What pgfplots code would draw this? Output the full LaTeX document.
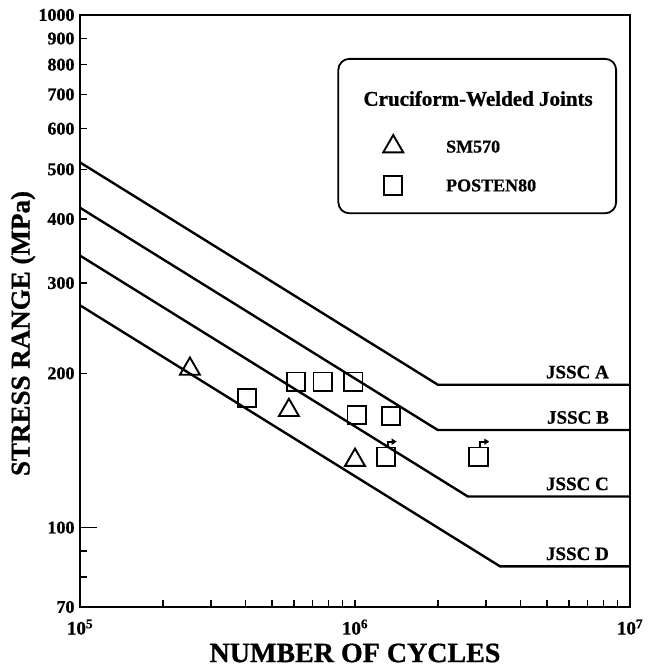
\documentclass[border=0pt]{standalone}
\usepackage{fontspec}
\setmainfont{Liberation Serif}[BoldFeatures={FakeBold=0.8}]
\usepackage{pgfplots}
\pgfplotsset{compat=1.18}
\usetikzlibrary{arrows.meta}
\newcommand{\fs}[1]{\fontsize{#1}{#1}\selectfont\bfseries}
\begin{document}
\begin{tikzpicture}
\begin{axis}[
  scale only axis, width=550pt, height=592pt,
  xmode=log, ymode=log,
  xmin=1e5, xmax=1e7, ymin=70, ymax=1000,
  axis line style={line width=2.2pt},
  tick style={line width=1.5pt, black},
  tick align=inside, tick pos=left,
  major tick length=7pt, minor tick length=7pt,
  xtick={1e5,1e6,1e7},
  xticklabels={10\textsuperscript{5},10\textsuperscript{6},10\textsuperscript{7}},
  minor xtick={2e5,3e5,4e5,5e5,6e5,7e5,8e5,9e5,2e6,3e6,4e6,5e6,6e6,7e6,8e6,9e6},
  ytick={70,100,200,300,400,500,600,700,800,900,1000},
  yticklabels={70,100,200,300,400,500,600,700,800,900,1000},
  minor ytick={80,90},
  extra y ticks={100}, extra y tick labels={},
  extra y tick style={major tick length=17pt},
  x tick label style={font=\fs{19}, yshift=-9pt},
  y tick label style={font=\fs{18}, xshift=-2pt},
  xlabel={NUMBER OF CYCLES},
  ylabel={STRESS RANGE (MPa)},
  xlabel style={font=\fs{28}, at={(axis description cs:0.5,-0.0777)}, anchor=center},
  ylabel style={font=\fs{27}, at={(axis description cs:-0.1036,0.462)}, anchor=center},
  legend style={draw=black, line width=1.8pt, rounded corners=11pt,
    at={(rel axis cs:0.9764,0.9274)}, anchor=north east,
    inner xsep=0pt, inner ysep=14pt, row sep=11pt, column sep=42pt,
    font=\fs{18}, cells={anchor=west},
    nodes={inner sep=0pt, text height=12pt, text depth=0pt}},
  legend image code/.code={\path (-54pt,-13pt) (10pt,13pt);
    \draw[mark repeat=1, mark phase=1] plot coordinates {(0pt,0pt)};},
]
% legend title
\addlegendimage{legend image code/.code={\path (0pt,-21pt) (0pt,26pt);}}
\addlegendentry{\hspace*{-106pt}\makebox[276pt][c]{\fs{21}Cruciform-Welded Joints}}

% JSSC curves
\addplot[black, line width=2.4pt, forget plot] coordinates {(1e5,515.7) (2e6,190) (1e7,190)};
\addplot[black, line width=2.4pt, forget plot] coordinates {(1e5,420.7) (2e6,155) (1e7,155)};
\addplot[black, line width=2.4pt, forget plot] coordinates {(1e5,339.3) (2.57e6,115) (1e7,115)};
\addplot[black, line width=2.4pt, forget plot] coordinates {(1e5,271.4) (3.37e6,84) (1e7,84)};

% SM570
\addplot[only marks, mark=triangle, mark size=11.5pt, mark options={line width=1.9pt, black, fill=white}]
  coordinates {(2.51e5,203.9) (5.75e5,169.4) (1e6,135.4)};
\addlegendentry{SM570}

% POSTEN80
\addplot[only marks, mark=square, mark size=9.2pt, mark options={line width=1.9pt, black, fill=white}]
  coordinates {(4.04e5,179.1) (6.1e5,192.6) (7.63e5,192.6) (9.86e5,192.6)
               (1.014e6,165.8) (1.349e6,165) (1.296e6,137.5) (2.81e6,137.5)};
\addlegendentry{POSTEN80}

% run-out arrows
\addplot[black, line width=1.9pt, -{Triangle[length=5pt,width=6pt]}, forget plot]
  coordinates {(1.321e6,143.3) (1.321e6,147.1) (1.418e6,147.1)};
\addplot[black, line width=1.9pt, -{Triangle[length=5pt,width=6pt]}, forget plot]
  coordinates {(2.848e6,143.3) (2.848e6,147.1) (3.078e6,147.1)};

% labels
\node[anchor=south east, font=\fs{19}, inner sep=0pt] at (axis cs:8.39e6,190) [yshift=6pt] {JSSC A};
\node[anchor=south east, font=\fs{19}, inner sep=0pt] at (axis cs:8.39e6,155) [yshift=6pt] {JSSC B};
\node[anchor=south east, font=\fs{19}, inner sep=0pt] at (axis cs:8.39e6,115) [yshift=6pt] {JSSC C};
\node[anchor=south east, font=\fs{19}, inner sep=0pt] at (axis cs:8.39e6,84) [yshift=6pt] {JSSC D};
\end{axis}
\pgfresetboundingbox
\path (-80pt,-60pt) rectangle (578pt,607pt);
\end{tikzpicture}
\end{document}
